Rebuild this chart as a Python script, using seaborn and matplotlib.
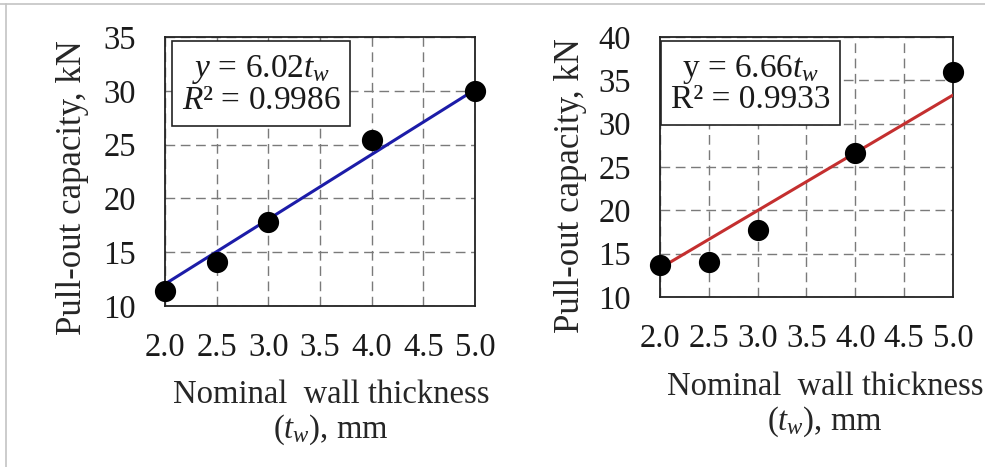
import numpy as np
import pandas as pd
import matplotlib
matplotlib.use("Agg")
import matplotlib.pyplot as plt
import seaborn as sns
from matplotlib.lines import Line2D

# data
thickness = [2.0, 2.5, 3.0, 4.0, 5.0]
capacity_left = [11.4, 14.1, 17.8, 25.4, 30.0]
capacity_right = [13.7, 14.0, 17.7, 26.6, 36.0]
slopes = [6.02, 6.66]
r2_text = ["0.9986", "0.9933"]
y_limits = [(10, 35), (10, 40)]
x_ticks = [2.0, 2.5, 3.0, 3.5, 4.0, 4.5, 5.0]
line_colors = ["#1c1ca8", "#c42f2f"]

sns.set_theme(style="white")
plt.rcParams["font.family"] = ["Liberation Serif", "DejaVu Serif"]
plt.rcParams["mathtext.fontset"] = "custom"
plt.rcParams["mathtext.rm"] = "Liberation Serif"
plt.rcParams["mathtext.it"] = "Liberation Serif:italic"
plt.rcParams["text.color"] = "#1a1a1a"

fig = plt.figure(figsize=(9.85, 4.67), dpi=100)
ax_l = fig.add_axes([0.1675, 0.3448, 0.3147, 0.576])
ax_r = fig.add_axes([0.670, 0.364, 0.2975, 0.5567])

# screenshot frame lines (top and left)
fig.add_artist(Line2D([0, 1], [1 - 4 / 467, 1 - 4 / 467], color="#c4c4c4", lw=1.2))
fig.add_artist(Line2D([6 / 985, 6 / 985], [0, 1 - 4 / 467], color="#c4c4c4", lw=1.2))

panels = [
    (ax_l, capacity_left, 0, r"$y$ = 6.02$t_w$" + "\n" + r"$R$² = " + r2_text[0]),
    (ax_r, capacity_right, 1, r"y = 6.66$t_w$" + "\n" + "R² = " + r2_text[1]),
]

fs = 23.5
for ax, cap, i, eq in panels:
    df = pd.DataFrame({"t": thickness, "P": cap})
    df["fit"] = slopes[i] * df["t"]
    sns.lineplot(data=df, x="t", y="fit", ax=ax, color=line_colors[i], lw=2.2, zorder=3)
    sns.scatterplot(data=df, x="t", y="P", ax=ax, color="black", s=200,
                    edgecolor="black", zorder=4, clip_on=False)
    ax.set_xlim(2.0, 5.0)
    ax.set_ylim(*y_limits[i])
    ax.set_xticks(x_ticks)
    ax.set_xticklabels([f"{v:.1f}" for v in x_ticks])
    ax.set_yticks(np.arange(y_limits[i][0], y_limits[i][1] + 1, 5))
    ax.grid(True, color="#7a7a7a", linestyle=(0, (7, 4)), lw=1)
    ax.set_axisbelow(True)
    for sp in ax.spines.values():
        sp.set_color("#222222")
        sp.set_linewidth(1.3)
    ax.tick_params(axis="both", length=0, labelsize=fs, colors="#1a1a1a")
    ax.tick_params(axis="y", pad=21)
    ax.tick_params(axis="x", pad=19)
    ax.set_ylabel("Pull-out capacity, kN", fontsize=25)
    ax.set_xlabel("Nominal  wall thickness\n($t_w$), mm", fontsize=fs,
                  linespacing=1.1, va="top")
    ax.text(0.31, 0.94, eq, transform=ax.transAxes, ha="center", va="top",
            fontsize=24, linespacing=0.97, zorder=5,
            bbox=dict(boxstyle="square,pad=0.3", fc="white", ec="#222222", lw=1.2))

ax_l.xaxis.set_label_coords(0.535, -0.272)
ax_r.xaxis.set_label_coords(0.563, -0.285)
ax_l.yaxis.set_label_coords(-0.245, 0.439)
ax_r.yaxis.set_label_coords(-0.249, 0.427)

fig.savefig("out.png", dpi=100)
